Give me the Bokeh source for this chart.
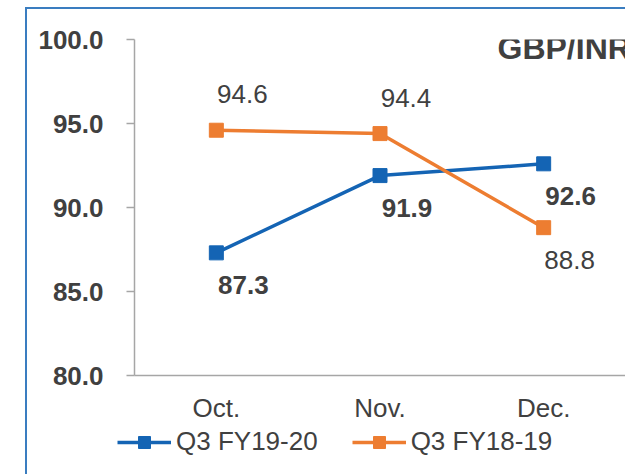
from bokeh.plotting import figure
from bokeh.layouts import column
from bokeh.models import (Range1d, FixedTicker, Legend, LegendItem,
                          Label, ColumnDataSource, NumeralTickFormatter)
from bokeh.core.properties import value
from bokeh.embed import file_html
from bokeh.resources import INLINE

# ---- data ----
months = ["Oct.", "Nov.", "Dec."]
fy1920 = [87.3, 91.9, 92.6]
fy1819 = [94.6, 94.4, 88.8]
series_names = ["Q3 FY19-20", "Q3 FY18-19"]
fy1920_label_pos = ["below", "below", "below"]
fy1819_label_pos = ["above", "above", "below"]
y_ticks = [80, 85, 90, 95, 100]
title_text = "GBP/INR"

BLUE = "#1464B4"
ORANGE = "#ED7D31"
TEXT = "#404040"
AXIS = "#A6A6A6"
BORDER = "#3A7DC0"
FONT = "Liberation Sans"

xs = list(range(len(months)))
NAN = float("nan")

line_grad = f"linear-gradient({BORDER}, {BORDER})"

p = figure(width=625, height=425, output_backend="svg", toolbar_location=None,
           x_range=Range1d(-0.5, 2.5), y_range=Range1d(80, 100),
           min_border_left=134, min_border_right=0, min_border_top=39,
           min_border_bottom=49)
p.frame_align = False
p.outline_line_color = None
p.border_fill_alpha = 0
p.xgrid.visible = False
p.ygrid.visible = False
p.styles = {
    "background-image": f"{line_grad}, {line_grad}",
    "background-position": "25px 7px, 25px 7px",
    "background-size": "2px 100%, 100% 2px",
    "background-repeat": "no-repeat, no-repeat",
}

# y axis
p.yaxis.ticker = FixedTicker(ticks=y_ticks)
p.yaxis.formatter = NumeralTickFormatter(format="0.0")
p.yaxis.major_label_text_font = FONT
p.yaxis.major_label_text_font_style = "bold"
p.yaxis.major_label_text_font_size = "26px"
p.yaxis.major_label_text_color = TEXT
p.yaxis.axis_line_color = AXIS
p.yaxis.axis_line_width = 1.5
p.yaxis.major_tick_line_color = AXIS
p.yaxis.major_tick_line_width = 1.5
p.yaxis.major_tick_out = 8
p.yaxis.major_tick_in = 0
p.yaxis.minor_tick_line_color = None
p.yaxis.major_label_standoff = 23

# x axis
p.xaxis.ticker = FixedTicker(ticks=xs)
p.xaxis.major_label_overrides = {i: m for i, m in zip(xs, months)}
p.xaxis.major_label_text_font = FONT
p.xaxis.major_label_text_font_size = "26px"
p.xaxis.major_label_text_color = TEXT
p.xaxis.axis_line_color = AXIS
p.xaxis.axis_line_width = 1.5
p.xaxis.major_tick_line_color = None
p.xaxis.major_tick_out = 0
p.xaxis.major_tick_in = 0
p.xaxis.minor_tick_line_color = None
p.xaxis.major_label_standoff = 17

# series
p.line(xs, fy1920, line_color=BLUE, line_width=3.5)
p.scatter(xs, fy1920, marker="square", size=14, fill_color=BLUE, line_color=BLUE)
p.line(xs, fy1819, line_color=ORANGE, line_width=3.5)
p.scatter(xs, fy1819, marker="square", size=14, fill_color=ORANGE, line_color=ORANGE)

def offs(pos):
    return [32 if q == "below" else -36 for q in pos]

src1 = ColumnDataSource(dict(x=xs, y=fy1920, t=[f"{v:.1f}" for v in fy1920], yo=offs(fy1920_label_pos)))
src2 = ColumnDataSource(dict(x=xs, y=fy1819, t=[f"{v:.1f}" for v in fy1819], yo=offs(fy1819_label_pos)))
p.text(x="x", y="y", text="t", source=src1, x_offset=27, y_offset="yo",
       text_align="center", text_baseline="middle", text_font=value(FONT),
       text_font_size="26px", text_font_style="bold", text_color=TEXT)
p.text(x="x", y="y", text="t", source=src2, x_offset=26, y_offset="yo",
       text_align="center", text_baseline="middle", text_font=value(FONT),
       text_font_size="26px", text_color=TEXT)

# title (runs off the right edge, as in the reference)
p.add_layout(Label(x=497, y=47, x_units="canvas", y_units="canvas", text=title_text,
                   text_font=FONT, text_font_size="32px", text_font_style="bold",
                   text_color=TEXT, text_baseline="middle"))

# legend strip (separate figure below the chart)
lg = figure(width=625, height=49, output_backend="svg", toolbar_location=None,
            x_axis_type=None, y_axis_type=None, x_range=Range1d(0, 1),
            y_range=Range1d(0, 1), min_border=0)
lg.frame_align = False
lg.outline_line_color = None
lg.background_fill_alpha = 0
lg.border_fill_alpha = 0
lg.xgrid.visible = False
lg.ygrid.visible = False
lg.styles = {
    "background-image": line_grad,
    "background-position": "25px 0px",
    "background-size": "2px 100%",
    "background-repeat": "no-repeat",
}
# legend-only renderers (NaN data: nothing drawn in the strip itself)
ll1 = lg.line([NAN], [NAN], line_color=BLUE, line_width=3.5)
ls1 = lg.scatter([NAN], [NAN], marker="square", size=14, fill_color=BLUE, line_color=BLUE)
ll2 = lg.line([NAN], [NAN], line_color=ORANGE, line_width=3.5)
ls2 = lg.scatter([NAN], [NAN], marker="square", size=14, fill_color=ORANGE, line_color=ORANGE)

legend = Legend(items=[LegendItem(label=series_names[0], renderers=[ll1, ls1]),
                       LegendItem(label=series_names[1], renderers=[ll2, ls2])],
                orientation="horizontal", location=(117, 17),
                glyph_width=54, glyph_height=30, label_standoff=5, spacing=34,
                padding=0, margin=0, border_line_color=None, background_fill_alpha=0,
                label_text_font=FONT, label_text_font_size="26px",
                label_text_color=TEXT)
lg.add_layout(legend)

layout = column(p, lg, spacing=0)
open("out.html", "w").write(file_html(layout, INLINE))
